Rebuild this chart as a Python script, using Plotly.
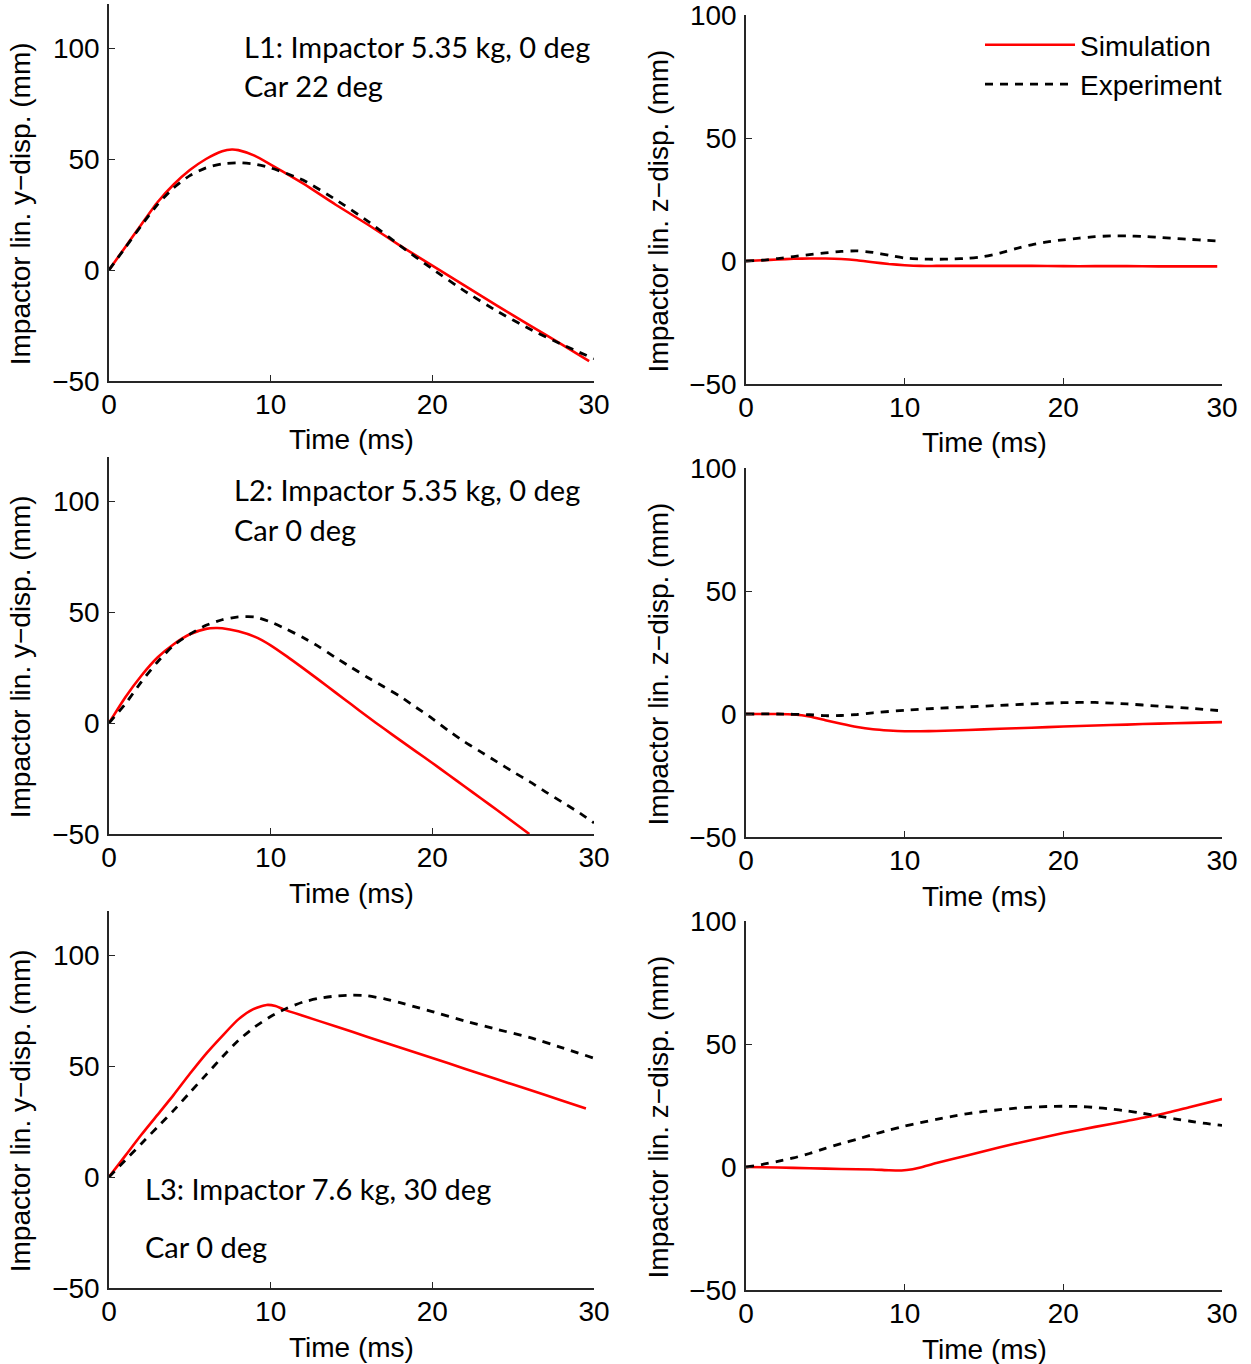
import plotly.graph_objects as go

# ---------------- data ----------------
# L1, y-displacement
t_l1y_sim = [0, 1, 2, 3, 4, 5, 6, 7, 7.6, 8, 9, 10, 12, 14, 16, 18, 20, 22, 24, 26, 28, 29.7]
v_l1y_sim = [0, 10.3, 20.5, 30.5, 38.5, 45, 50, 53.5, 54.3, 54, 51.5, 47.5, 39, 29.5, 20.5, 11, 2, -7, -16, -24.8, -33.5, -41]
t_l1y_exp = [0, 1, 2, 3, 4, 5, 6, 7, 8, 9, 10, 12, 14, 16, 18, 20, 22, 24, 26, 28, 30]
v_l1y_exp = [0, 10, 20, 29.5, 37, 42.5, 46, 47.8, 48.3, 47.7, 46, 40.5, 31.8, 22, 11, 0.5, -9.5, -18.5, -26.5, -33.5, -40]

# L1, z-displacement
t_l1z_sim = [0, 1, 2, 3, 4, 5, 6, 7, 8, 9, 10, 11, 12, 14, 16, 18, 20, 22, 24, 26, 28, 29.7]
v_l1z_sim = [0, 0.3, 0.6, 0.9, 1, 1, 0.8, 0.3, -0.5, -1.2, -1.7, -2, -2, -2, -2, -2, -2.1, -2.1, -2.1, -2.2, -2.2, -2.2]
t_l1z_exp = list(range(0, 31))
v_l1z_exp = [0, 0.3, 1, 1.8, 2.6, 3.3, 3.9, 4.1, 3.5, 2.3, 1.2, 0.8, 0.7, 0.8, 1.1, 1.8, 3.2, 5, 6.6, 7.8,
             8.6, 9.3, 9.9, 10.2, 10.2, 10, 9.6, 9.2, 8.8, 8.4, 8.1]

# L2, y-displacement
t_l2y_sim = [0, 1, 2, 3, 4, 5, 6, 6.6, 7, 8, 9, 10, 11, 12, 13, 14, 15, 16, 17, 18, 19, 20, 21, 22, 23, 24, 25, 26]
v_l2y_sim = [0, 11.5, 21.3, 29.5, 35.5, 40, 42.4, 42.8, 42.7, 41.3, 38.9, 35, 30, 24.7, 19.3, 13.8, 8.3, 2.8,
             -2.5, -7.7, -12.9, -18, -23.3, -28.6, -33.9, -39.2, -44.6, -50]
t_l2y_exp = list(range(0, 31))
v_l2y_exp = [0, 8.5, 18.5, 27.5, 35, 40, 44, 46.5, 47.8, 47.8, 45.5, 42.2, 38.5, 34.3, 29.5, 25, 20.5, 16.3,
             12, 7, 2, -3.5, -8.5, -13, -17.5, -22, -26.3, -31, -35.5, -40, -45]

# L2, z-displacement
t_l2z_sim = [0, 1, 2, 3, 4, 5, 6, 7, 8, 9, 10, 11, 12, 14, 16, 18, 20, 22, 24, 26, 28, 30]
v_l2z_sim = [0, 0, 0, -0.2, -1, -2.5, -4, -5.3, -6.2, -6.7, -7, -7, -6.9, -6.5, -6, -5.6, -5.1, -4.7, -4.3, -3.9, -3.6, -3.3]
t_l2z_exp = [0, 2, 4, 5, 6, 7, 8, 10, 12, 14, 16, 18, 20, 22, 24, 26, 28, 30]
v_l2z_exp = [0, 0, -0.3, -0.7, -0.6, -0.2, 0.5, 1.5, 2.3, 2.9, 3.5, 4.1, 4.6, 4.7, 4.1, 3.2, 2.3, 1.3]

# L3, y-displacement
t_l3y_sim = [0, 1, 2, 3, 4, 5, 6, 7, 8, 8.9, 9.75, 10.3, 10.8, 12, 14, 16, 18, 20, 22, 24, 26, 28, 29.5]
v_l3y_sim = [0, 9.5, 19, 28, 37, 46.5, 55.5, 63.5, 71, 75.5, 77.5, 77, 75.5, 72.6, 67.9, 63.1, 58.3, 53.6,
             48.8, 44, 39.3, 34.5, 30.9]
t_l3y_exp = [0, 1, 2, 3, 4, 5, 6, 7, 8, 9, 10, 11, 12, 13, 14, 15, 16, 17, 18, 19, 20, 22, 24, 26, 28, 30]
v_l3y_exp = [0, 7.5, 15, 22.5, 30, 38, 46, 54, 61.5, 67.5, 72.3, 76, 78.8, 80.5, 81.5, 81.9, 81.6, 80.3,
             78.5, 76.5, 74.5, 70.3, 66.5, 62.9, 58.3, 53.5]

# L3, z-displacement
t_l3z_sim = [0, 2, 4, 6, 8, 9, 9.8, 10.5, 11, 12, 14, 16, 18, 20, 22, 24, 26, 28, 30]
v_l3z_sim = [0, -0.2, -0.5, -0.8, -1, -1.3, -1.4, -0.9, -0.2, 1.6, 4.8, 8, 11, 13.8, 16.3, 18.7, 21.2, 24.4, 27.6]
t_l3z_exp = list(range(0, 31))
v_l3z_exp = [0, 1, 2.3, 3.7, 5.5, 7.6, 9.5, 11.3, 13.2, 15, 16.6, 18, 19.4, 20.6, 21.7, 22.6, 23.3, 23.9,
             24.3, 24.6, 24.7, 24.6, 24.2, 23.6, 22.8, 21.8, 20.7, 19.6, 18.6, 17.7, 16.9]

x_ticks = [0, 10, 20, 30]
y_ticks = [-50, 0, 50, 100]
x_title = "Time (ms)"
y_title = "Impactor lin. y\u2212disp. (mm)"
z_title = "Impactor lin. z\u2212disp. (mm)"
series_names = ["Simulation", "Experiment"]
notes = [
    ["L1: Impactor 5.35 kg, 0 deg", "Car 22 deg"],
    ["L2: Impactor 5.35 kg, 0 deg", "Car 0 deg"],
    ["L3: Impactor 7.6 kg, 30 deg", "Car 0 deg"],
]

panels = [
    (0, 0, t_l1y_sim, v_l1y_sim, t_l1y_exp, v_l1y_exp),
    (0, 1, t_l1z_sim, v_l1z_sim, t_l1z_exp, v_l1z_exp),
    (1, 0, t_l2y_sim, v_l2y_sim, t_l2y_exp, v_l2y_exp),
    (1, 1, t_l2z_sim, v_l2z_sim, t_l2z_exp, v_l2z_exp),
    (2, 0, t_l3y_sim, v_l3y_sim, t_l3y_exp, v_l3y_exp),
    (2, 1, t_l3z_sim, v_l3z_sim, t_l3z_exp, v_l3z_exp),
]

# ---------------- layout geometry (pixels) ----------------
W, H = 1251, 1364
col_x = [(109, 594), (746, 1222)]
col_range = [(-50, 120), (-50, 100.02)]
col_bottom = [[381, 834, 1288], [384, 837, 1290]]
px_per_unit = [111 / 50, 123 / 50]

FONT = "Liberation Sans, Arial, sans-serif"
NOTE_FONT = "Lato, Open Sans, sans-serif"
AX_COLOR = "#262626"

fig = go.Figure()
layout = dict(
    width=W, height=H, margin=dict(l=0, r=0, t=0, b=0, autoexpand=False),
    paper_bgcolor="white", plot_bgcolor="white", showlegend=True,
    font=dict(family=FONT, size=28, color="black"),
)
annotations = []

for i, (r, c, ts, vs, te, ve) in enumerate(panels):
    k = i + 1
    xa = "xaxis" if k == 1 else f"xaxis{k}"
    ya = "yaxis" if k == 1 else f"yaxis{k}"
    xr = "x" if k == 1 else f"x{k}"
    yr = "y" if k == 1 else f"y{k}"
    x0, x1 = col_x[c]
    lo, hi = col_range[c]
    bot = col_bottom[c][r]
    top = bot - (hi - lo) * px_per_unit[c]
    layout[xa] = dict(
        domain=[x0 / W, x1 / W], anchor=yr, range=[0, 30], tickvals=x_ticks,
        showgrid=False, zeroline=False, showline=True, linecolor=AX_COLOR, linewidth=1.5,
        ticks="inside", ticklen=6, tickwidth=1.2, tickcolor=AX_COLOR, automargin=False,
        tickfont=dict(size=28, family=FONT), ticklabelstandoff=-2, ticklabeloverflow="allow",
    )
    layout[ya] = dict(
        domain=[1 - bot / H, 1 - top / H], anchor=xr, range=[lo, hi], tickvals=y_ticks,
        showgrid=False, zeroline=False, showline=True, linecolor=AX_COLOR, linewidth=1.5,
        ticks="inside", ticklen=6, tickwidth=1.2, tickcolor=AX_COLOR, automargin=False,
        tickfont=dict(size=28, family=FONT), ticklabelstandoff=2, ticklabeloverflow="allow",
    )
    fig.add_trace(go.Scatter(
        x=ts, y=vs, mode="lines", name=series_names[0], xaxis=xr, yaxis=yr,
        line=dict(color="#ff0000", width=2.6, shape="spline", smoothing=0.6),
        showlegend=(k == 2), legend="legend",
    ))
    fig.add_trace(go.Scatter(
        x=te, y=ve, mode="lines", name=series_names[1], xaxis=xr, yaxis=yr,
        line=dict(color="black", width=2.8, dash="8px,7px", shape="spline", smoothing=0.6),
        showlegend=(k == 2), legend="legend",
    ))
    annotations.append(dict(
        text=x_title, xref="paper", yref="paper",
        x=(x0 + x1) / 2 / W, y=1 - (bot + 59) / H,
        xanchor="center", yanchor="middle", showarrow=False,
        font=dict(size=28, family=FONT),
    ))
    annotations.append(dict(
        text=(y_title if c == 0 else z_title), xref="paper", yref="paper",
        x=(20 if c == 0 else 658) / W, y=1 - ((bot + top) / 2 + 12) / H,
        xanchor="center", yanchor="middle", textangle=-90, showarrow=False,
        font=dict(size=28, family=FONT),
    ))

note_pos = [
    ("x", "y", 8.2, [100.5, 83]),
    ("x3", "y3", 7.6, [105, 87]),
    ("x5", "y5", 2.1, [-5.4, -31.5]),
]
for (xr, yr, tx, ys), lines in zip(note_pos, notes):
    for yy, txt in zip(ys, lines):
        annotations.append(dict(
            text=txt, xref=xr, yref=yr, x=tx, y=yy, xanchor="left", yanchor="middle",
            showarrow=False, font=dict(size=29, family=NOTE_FONT, color="black"),
        ))

layout["annotations"] = annotations
layout["legend"] = dict(
    x=980 / W, y=1 - 20 / H, xanchor="left", yanchor="top",
    bgcolor="rgba(0,0,0,0)", font=dict(size=28, family=FONT),
    itemwidth=90, tracegroupgap=0,
)
fig.update_layout(**layout)
fig.write_html(
    "out.html",
    config={"displayModeBar": False},
    post_script="document.body.style.margin='0px';document.body.style.overflow='hidden';",
)
